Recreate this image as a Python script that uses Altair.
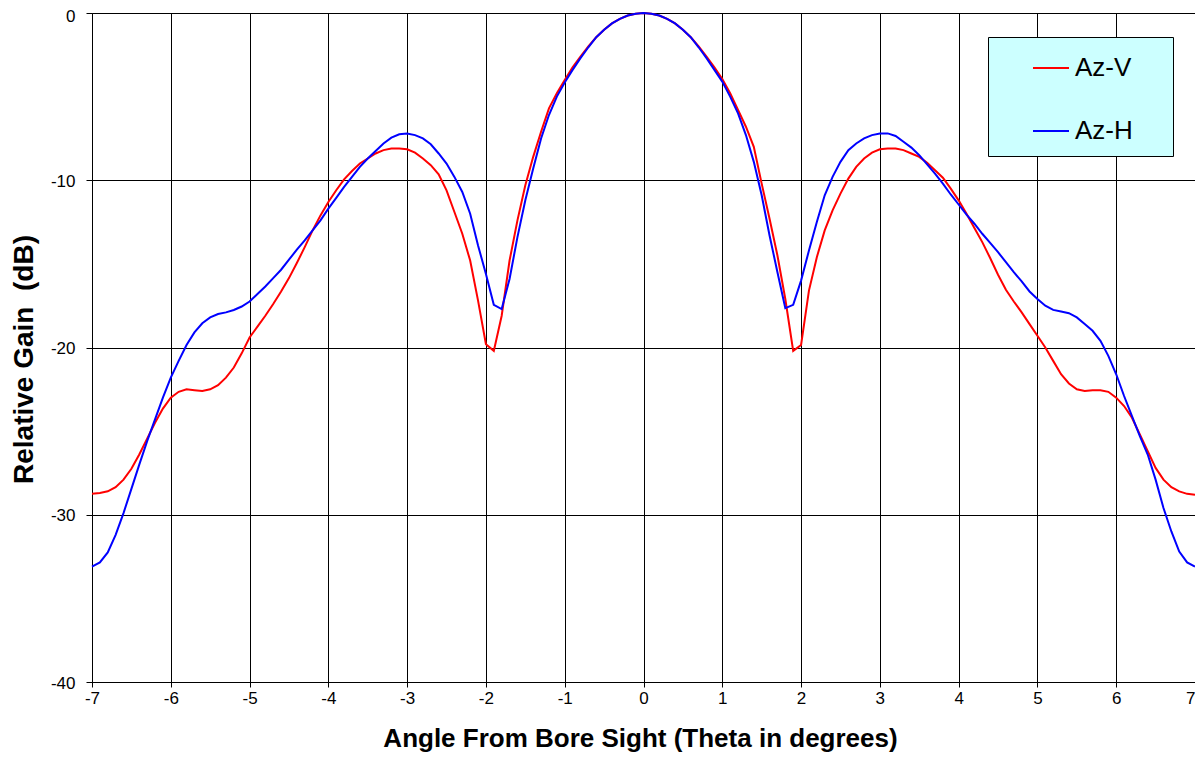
import altair as alt
import pandas as pd

angles = [
    -7.0, -6.9, -6.8, -6.7, -6.6, -6.5, -6.4, -6.3, -6.2, -6.1,
    -6.0, -5.9, -5.8, -5.7, -5.6, -5.5, -5.4, -5.3, -5.2, -5.1,
    -5.0, -4.9, -4.8, -4.7, -4.6, -4.5, -4.4, -4.3, -4.2, -4.1,
    -4.0, -3.9, -3.8, -3.7, -3.6, -3.5, -3.4, -3.3, -3.2, -3.1,
    -3.0, -2.9, -2.8, -2.7, -2.6, -2.5, -2.4, -2.3, -2.2, -2.1,
    -2.0, -1.9, -1.8, -1.7, -1.6, -1.5, -1.4, -1.3, -1.2, -1.1,
    -1.0, -0.9, -0.8, -0.7, -0.6, -0.5, -0.4, -0.3, -0.2, -0.1,
    0.0,
    0.1, 0.2, 0.3, 0.4, 0.5, 0.6, 0.7, 0.8, 0.9, 1.0,
    1.1, 1.2, 1.3, 1.4, 1.5, 1.6, 1.7, 1.8, 1.9, 2.0,
    2.1, 2.2, 2.3, 2.4, 2.5, 2.6, 2.7, 2.8, 2.9, 3.0,
    3.1, 3.2, 3.3, 3.4, 3.5, 3.6, 3.7, 3.8, 3.9, 4.0,
    4.1, 4.2, 4.3, 4.4, 4.5, 4.6, 4.7, 4.8, 4.9, 5.0,
    5.1, 5.2, 5.3, 5.4, 5.5, 5.6, 5.7, 5.8, 5.9, 6.0,
    6.1, 6.2, 6.3, 6.4, 6.5, 6.6, 6.7, 6.8, 6.9, 7.0,
]

az_v = [
    -28.75, -28.7, -28.6, -28.35, -27.9, -27.25, -26.4, -25.45, -24.5, -23.65,
    -23.0, -22.65, -22.5, -22.55, -22.6, -22.5, -22.25, -21.8, -21.2, -20.35,
    -19.4, -18.75, -18.1, -17.4, -16.65, -15.85, -14.95, -14.0, -13.0, -12.1,
    -11.3, -10.6, -9.95, -9.45, -9.0, -8.7, -8.4, -8.2, -8.1, -8.1,
    -8.15, -8.35, -8.7, -9.1, -9.65, -10.6, -11.9, -13.2, -14.8, -17.2,
    -19.8, -20.2, -18.1, -14.8, -12.4, -10.3, -8.6, -7.1, -5.7, -4.8,
    -4.0, -3.25, -2.6, -2.0, -1.45, -1.0, -0.62, -0.35, -0.15, -0.04,
    0.0,
    -0.04, -0.15, -0.35, -0.62, -1.0, -1.45, -2.0, -2.6, -3.25, -3.95,
    -4.8, -5.8, -6.8, -8.0, -10.2, -12.3, -14.5, -17.1, -20.2, -19.85,
    -16.6, -14.6, -13.0, -11.8, -10.8, -9.9, -9.2, -8.7, -8.35, -8.15,
    -8.1, -8.1, -8.2, -8.4, -8.6, -8.95, -9.4, -9.85, -10.5, -11.2,
    -12.0, -12.85, -13.7, -14.65, -15.65, -16.55, -17.25, -17.9, -18.6, -19.3,
    -20.0, -20.8, -21.6, -22.15, -22.5, -22.6, -22.55, -22.55, -22.65, -23.0,
    -23.5, -24.2, -25.2, -26.2, -27.2, -27.9, -28.35, -28.6, -28.75, -28.8,
]

az_h = [
    -33.1, -32.85, -32.25, -31.2, -29.9, -28.45, -27.0, -25.6, -24.3, -23.0,
    -21.8, -20.8, -19.85, -19.1, -18.55, -18.2, -18.0, -17.9, -17.76, -17.55,
    -17.25, -16.8, -16.35, -15.85, -15.35, -14.75, -14.15, -13.6, -13.0, -12.4,
    -11.7, -11.05, -10.4, -9.8, -9.2, -8.7, -8.25, -7.8, -7.45, -7.25,
    -7.2, -7.3, -7.5, -7.85, -8.4, -9.0, -9.8, -10.7, -12.0, -13.9,
    -15.6, -17.45, -17.7, -15.9, -13.4, -11.2, -9.3, -7.5, -6.1, -5.0,
    -4.15, -3.4, -2.7, -2.05, -1.45, -1.0, -0.62, -0.35, -0.15, -0.04,
    0.0,
    -0.04, -0.15, -0.35, -0.62, -1.0, -1.45, -2.05, -2.7, -3.4, -4.1,
    -5.0, -6.0, -7.3, -8.9, -10.9, -13.3, -15.5, -17.65, -17.45, -16.0,
    -14.2, -12.5, -10.9, -9.8, -8.9, -8.2, -7.8, -7.5, -7.3, -7.2,
    -7.2, -7.35, -7.7, -8.05, -8.5, -9.05, -9.6, -10.2, -10.85, -11.45,
    -12.05, -12.6, -13.2, -13.75, -14.3, -14.9, -15.5, -16.05, -16.65, -17.1,
    -17.5, -17.75, -17.85, -17.95, -18.2, -18.6, -19.0, -19.6, -20.5, -21.6,
    -22.9, -24.1, -25.3, -26.4, -27.9, -29.6, -31.0, -32.2, -32.85, -33.1,
]

series_names = ["Az-V", "Az-H"]
series_colors = ["#FF0000", "#0000FF"]
x_ticks = [-7, -6, -5, -4, -3, -2, -1, 0, 1, 2, 3, 4, 5, 6, 7]
y_ticks = [-40, -30, -20, -10, 0]

rows = []
for a, v in zip(angles, az_v):
    rows.append({"angle": a, "gain": v, "series": "Az-V"})
for a, h in zip(angles, az_h):
    rows.append({"angle": a, "gain": h, "series": "Az-H"})
df = pd.DataFrame(rows)

FONT = "Liberation Sans"

chart = alt.Chart(df).mark_line(strokeWidth=2).encode(
    x=alt.X(
        "angle:Q",
        scale=alt.Scale(domain=[-7, 7], nice=False, zero=False),
        axis=alt.Axis(
            values=x_ticks,
            labelExpr="'' + datum.value",
            labelAlign={"condition": {"test": "datum.value >= 7", "value": "right"}, "value": "center"},
            title="Angle From Bore Sight (Theta in degrees)",
            titleFontSize=26,
            titleX=548,
            titleY=64,
            titleBaseline="alphabetic",
            titleAlign="center",
            labelPadding=3,
            tickSize=5,
            labelFlush=False,
        ),
    ),
    y=alt.Y(
        "gain:Q",
        scale=alt.Scale(domain=[-40, 0], nice=False),
        axis=alt.Axis(
            values=y_ticks,
            labelExpr="'' + datum.value",
            title="Relative Gain \u00a0(dB)",
            titleFontSize=28,
            titleAngle=270,
            titleX=-68,
            titleY=346,
            titleAlign="center",
            titleBaseline="middle",
            labelPadding=11,
            labelOffset={"condition": {"test": "datum.value >= 0", "value": 3}, "value": 1},
            tickSize=6,
            labelFlush=False,
        ),
    ),
    color=alt.Color(
        "series:N",
        scale=alt.Scale(domain=series_names, range=series_colors),
        sort=series_names,
        legend=alt.Legend(
            title="\u00a0",
            titleOrient="right",
            titlePadding=28,
            titleFontSize=12,
            orient="none",
            legendX=896,
            legendY=24,
            fillColor="#CCFFFF",
            strokeColor="#000000",
            padding=12,
            symbolType="stroke",
            symbolSize=1296,
            symbolStrokeWidth=2,
            symbolOffset=32,
            labelOffset=5,
            labelFontSize=26,
            labelFont=FONT,
            labelColor="#000000",
            rowPadding=31,
        ),
    ),
).properties(
    width=1103,
    height=669,
    autosize=alt.AutoSizeParams(type="none"),
    padding={"left": 84, "top": 5, "right": 0, "bottom": 70},
).configure_view(
    stroke="#808080", strokeWidth=1
).configure_axis(
    grid=True,
    gridColor="#000000",
    gridWidth=1,
    gridOpacity=1,
    domainColor="#000000",
    tickColor="#000000",
    labelFont=FONT,
    labelFontSize=17,
    labelColor="#000000",
    titleFont=FONT,
    titleFontWeight="bold",
    titleColor="#000000",
)

chart.save("out.html", embed_options={"renderer": "svg", "actions": False})
